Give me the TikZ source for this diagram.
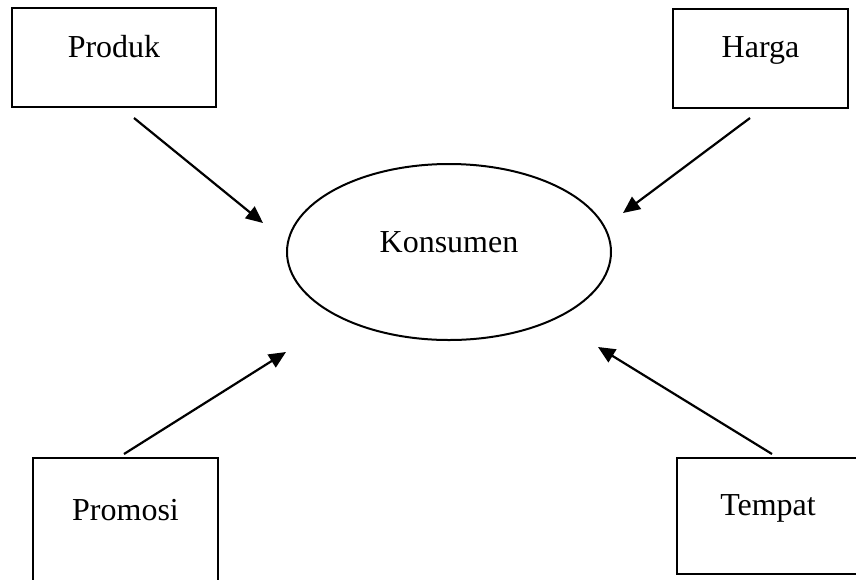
\documentclass[tikz,border=0pt]{standalone}
\usepackage{fontspec}
\setmainfont{Liberation Serif}
\usetikzlibrary{arrows.meta,shapes.geometric}
\tikzset{
    kotak/.style={draw, line width=1pt, inner sep=0pt, anchor=base, text height=24.5pt, text depth=25pt},
    panah/.style={-{Triangle[length=8.5pt,width=7.5pt]}, line width=1.1pt},
}
\begin{document}
\begin{tikzpicture}[x=0.5pt,y=-0.5pt, font=\fontsize{16}{19}\selectfont] %[scale=0.8]
    \useasboundingbox (0,0) rectangle (856,579);
    \node [kotak, minimum width=102pt] (produk) at (114,57) {Produk};
    \node [kotak, minimum width=87.5pt] (harga) at (760.5,57.5) {Harga};
    \node [kotak, minimum width=92.5pt, text height=31pt, text depth=36pt] (promosi) at (125.5,520) {Promosi};
    \node [kotak, minimum width=91pt, text height=28.5pt, text depth=29.5pt] (tempat) at (768,515) {Tempat};
    \node [draw, ellipse, line width=1pt, inner sep=0pt, text height=8pt, text depth=8pt, minimum width=162pt, minimum height=88pt] (konsumen) at (449,252) {Konsumen};
    \coordinate (p1) at (134,118);
    \coordinate (p2) at (263,223);
    \coordinate (h1) at (750,118);
    \coordinate (h2) at (623,213);
    \coordinate (m1) at (124,454);
    \coordinate (m2) at (286,352);
    \coordinate (t1) at (772,454);
    \coordinate (t2) at (598,347);
    \draw [panah] (p1) -- (p2);
    \draw [panah] (h1) -- (h2);
    \draw [panah] (m1) -- (m2);
    \draw [panah] (t1) -- (t2);
\end{tikzpicture}
\end{document}
